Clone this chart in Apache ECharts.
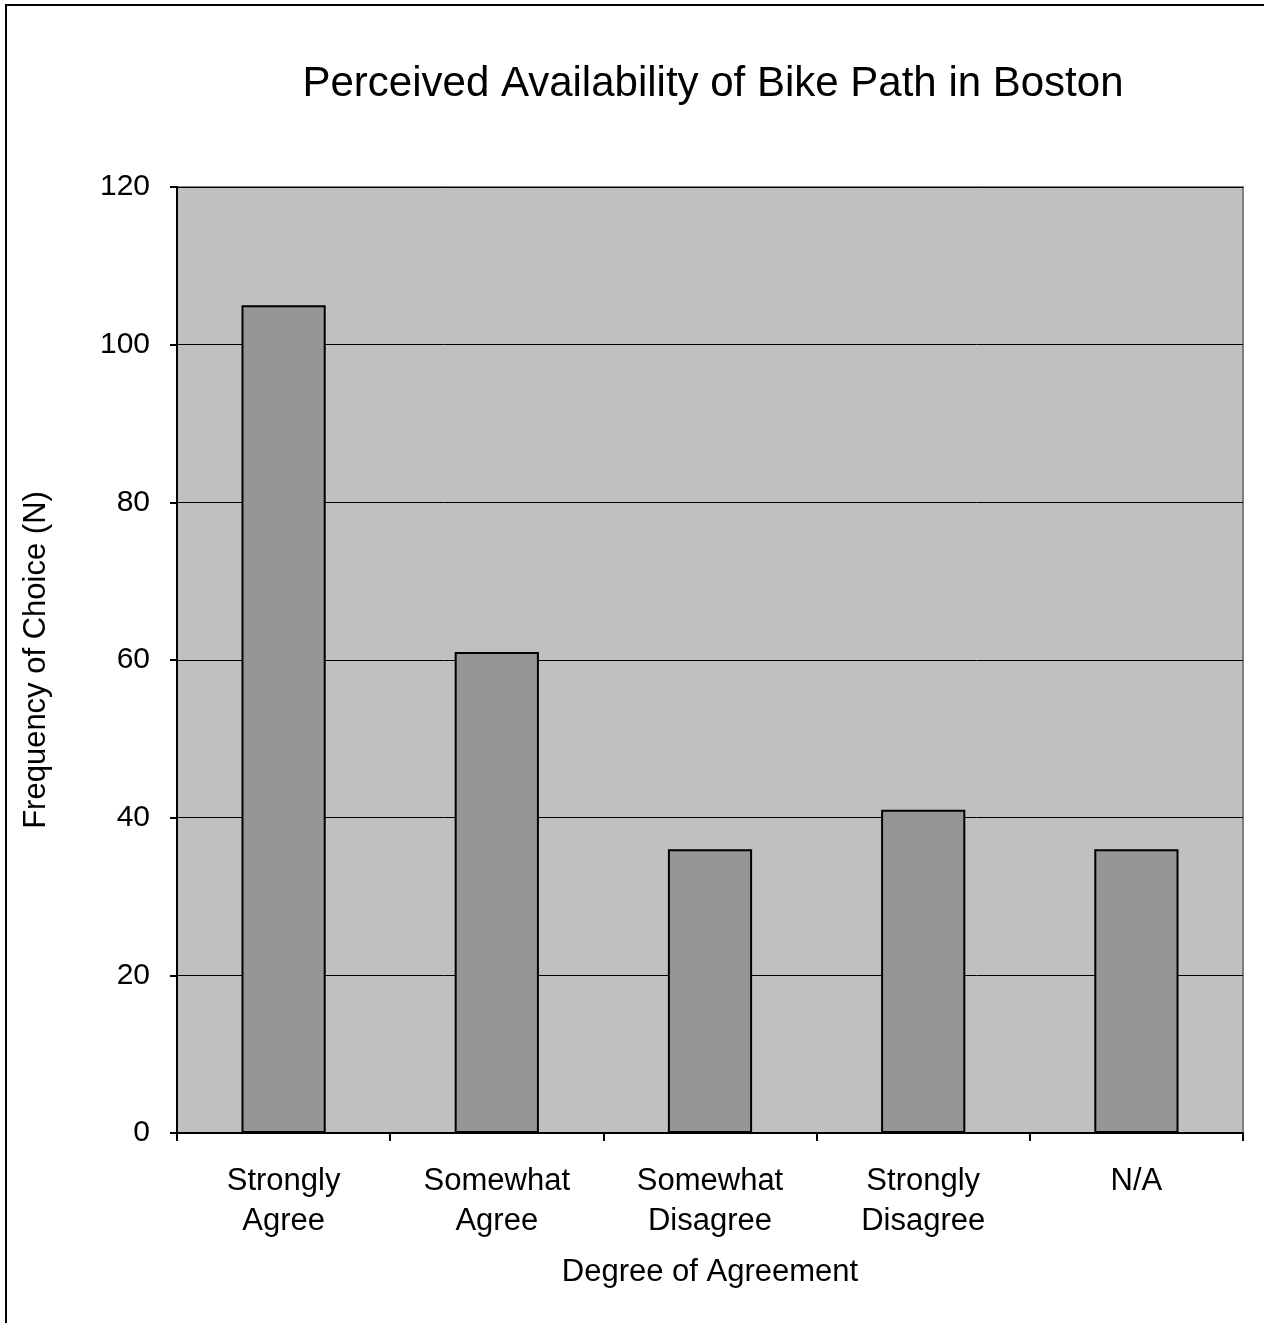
<!DOCTYPE html>
<html>
<head>
<meta charset="utf-8">
<script src="https://cdn.jsdelivr.net/npm/echarts@6/dist/echarts.min.js"></script>
<style>
  html, body { margin: 0; padding: 0; background: #fff; }
  #main { width: 1264px; height: 1323px; }
</style>
</head>
<body>
<div id="main"></div>
<script>
var categories = ['Strongly\nAgree', 'Somewhat\nAgree', 'Somewhat\nDisagree', 'Strongly\nDisagree', 'N/A'];
var frequency = [105, 61, 36, 41, 36];

var myChart = echarts.init(document.getElementById('main'));
// 绘制图表
myChart.setOption({
    backgroundColor: '#fff',
    textStyle: { fontFamily: 'Liberation Sans, Arial, sans-serif' },
    title: {
        text: 'Perceived Availability of Bike Path in Boston',
        left: 708,
        textAlign: 'center',
        top: 58,
        textStyle: { fontSize: 42, fontWeight: 'normal', color: '#000', fontFamily: 'Liberation Sans, Arial, sans-serif' }
    },
    graphic: [
        {
            type: 'rect',
            shape: { x: 6, y: 5, width: 1400, height: 1400 },
            style: { fill: null, stroke: '#000', lineWidth: 2 },
            silent: true
        }
    ],
    grid: {
        left: 177,
        top: 187,
        right: 21,
        bottom: 190,
        show: true,
        backgroundColor: '#c0c0c0',
        borderColor: '#808080',
        borderWidth: 2
    },
    xAxis: {
        type: 'category',
        data: categories,
        name: 'Degree of Agreement',
        nameLocation: 'middle',
        nameGap: 124,
        nameTextStyle: { fontSize: 31, color: '#000' },
        axisLine: { lineStyle: { color: '#000', width: 2 } },
        axisTick: { show: true, length: 8, lineStyle: { color: '#000', width: 2 } },
        axisLabel: { fontSize: 31, color: '#000', margin: 28, lineHeight: 40 }
    },
    yAxis: {
        type: 'value',
        min: 0,
        max: 120,
        interval: 20,
        name: 'Frequency of Choice (N)',
        nameLocation: 'middle',
        nameGap: 125,
        nameTextStyle: { fontSize: 31, color: '#000' },
        axisLine: { show: true, lineStyle: { color: '#000', width: 2 } },
        axisTick: { show: true, length: 7, lineStyle: { color: '#000', width: 2 } },
        axisLabel: { fontSize: 30, color: '#000', margin: 27 },
        splitLine: { show: true, lineStyle: { color: '#000', width: 1 } }
    },
    series: [
        {
            name: 'Frequency',
            type: 'bar',
            data: frequency,
            barWidth: '39.5%',
            itemStyle: {
                color: '#969696',
                borderColor: '#000',
                borderWidth: 2
            },
            animation: false
        }
    ]
});
</script>
</body>
</html>
